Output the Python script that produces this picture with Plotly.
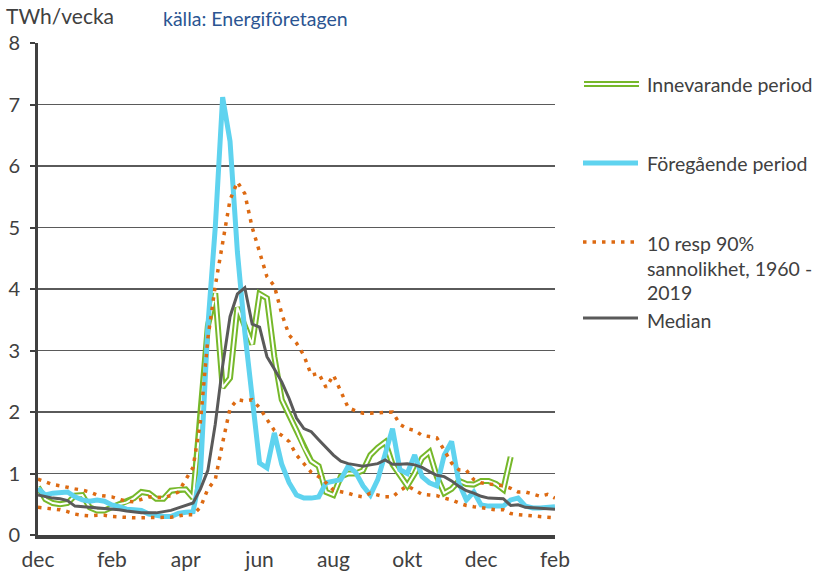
import plotly.graph_objects as go

# ---------------- data ----------------
weeks = list(range(71))
month_labels = ["dec", "feb", "apr", "jun", "aug", "okt", "dec", "feb"]
label_step = 10

innevarande = [0.78, 0.58, 0.52, 0.50, 0.52, 0.64, 0.65, 0.45, 0.40, 0.40,
               0.45, 0.50, 0.53, 0.60, 0.70, 0.68, 0.59, 0.59, 0.72, 0.74,
               0.74, 0.60, 1.90, 3.40, 3.93, 2.40, 2.55, 3.70, 3.40, 3.10,
               3.92, 3.85, 2.90, 2.20, 1.95, 1.70, 1.42, 1.20, 1.12, 0.70,
               0.65, 0.95, 1.00, 1.00, 1.05, 1.30, 1.42, 1.51, 1.15, 0.98,
               0.80, 1.00, 1.25, 1.35, 0.95, 0.68, 0.75, 0.88, 0.83, 0.82,
               0.88, 0.88, 0.83, 0.74, 1.27, None, None, None, None, None, None]

foregaende = [0.76, 0.65, 0.68, 0.70, 0.70, 0.62, 0.57, 0.55, 0.57, 0.55,
              0.49, 0.46, 0.42, 0.41, 0.40, 0.34, 0.31, 0.30, 0.30, 0.35,
              0.37, 0.38, 1.00, 3.40, 5.00, 7.12, 6.40, 4.60, 3.30, 2.20,
              1.17, 1.09, 1.66, 1.15, 0.85, 0.65, 0.60, 0.60, 0.62, 0.85,
              0.87, 0.90, 1.12, 1.02, 0.80, 0.65, 0.90, 1.30, 1.73, 1.06,
              1.00, 1.30, 0.95, 0.85, 0.80, 1.30, 1.52, 0.84, 0.57, 0.70,
              0.49, 0.47, 0.47, 0.47, 0.57, 0.60, 0.47, 0.44, 0.44, 0.44,
              0.46]

p90 = [0.91, 0.87, 0.82, 0.80, 0.77, 0.75, 0.73, 0.70, 0.65, 0.64,
       0.62, 0.58, 0.55, 0.54, 0.58, 0.62, 0.61, 0.61, 0.64, 0.70,
       0.90, 1.10, 1.85, 3.20, 4.05, 4.72, 5.45, 5.74, 5.55, 5.00,
       4.60, 4.20, 4.05, 3.60, 3.25, 3.12, 2.92, 2.60, 2.63, 2.40,
       2.60, 2.35, 2.07, 2.02, 1.98, 1.98, 1.99, 2.00, 2.00, 1.80,
       1.73, 1.70, 1.62, 1.60, 1.58, 1.38, 1.17, 1.06, 1.05, 0.90,
       0.85, 0.83, 0.82, 0.80, 0.76, 0.70, 0.70, 0.66, 0.63, 0.66,
       0.60]

p10 = [0.45, 0.44, 0.42, 0.41, 0.38, 0.34, 0.32, 0.31, 0.32, 0.32,
       0.30, 0.29, 0.29, 0.28, 0.28, 0.28, 0.29, 0.28, 0.29, 0.31,
       0.33, 0.33, 0.45, 0.75, 0.90, 1.50, 2.06, 2.20, 2.18, 2.20,
       2.07, 1.88, 1.70, 1.62, 1.52, 1.30, 1.15, 1.02, 0.95, 0.85,
       0.73, 0.71, 0.68, 0.64, 0.62, 0.68, 0.65, 0.62, 0.62, 0.72,
       0.80, 0.73, 0.66, 0.65, 0.64, 0.60, 0.57, 0.52, 0.48, 0.46,
       0.44, 0.42, 0.41, 0.41, 0.35, 0.33, 0.32, 0.31, 0.31, 0.30,
       0.28]

median = [0.65, 0.62, 0.60, 0.59, 0.56, 0.47, 0.46, 0.46, 0.45, 0.44,
          0.43, 0.41, 0.39, 0.37, 0.36, 0.36, 0.36, 0.38, 0.40, 0.44,
          0.48, 0.52, 0.75, 1.05, 1.80, 2.75, 3.55, 3.92, 4.02, 3.43,
          3.38, 2.90, 2.70, 2.49, 2.22, 1.90, 1.73, 1.68, 1.55, 1.43,
          1.30, 1.20, 1.16, 1.14, 1.12, 1.14, 1.16, 1.22, 1.15, 1.15,
          1.16, 1.14, 1.10, 1.03, 0.97, 0.95, 0.88, 0.79, 0.72, 0.68,
          0.63, 0.60, 0.60, 0.59, 0.48, 0.49, 0.45, 0.44, 0.43, 0.43,
          0.42]

legend_texts = ["Innevarande period", "Föregående period",
                "10 resp 90%", "sannolikhet, 1960 -", "2019", "Median"]

# ---------------- styles ----------------
GREEN = "#76B82A"
BLUE = "#5FD3EF"
ORANGE = "#DD6A12"
GREY = "#5A5A5A"
TXT = "#404040"
FONT = "Lato"
DOT = "3.5px,6px"

W, H = 815, 574
L, R, T, B = 38, 260, 43, 39
PW, PH = W - L - R, H - T - B


def px_x(px):
    return (px - L) / PW


def px_y(py):
    return (H - B - py) / PH


fig = go.Figure()

# Innevarande (compound double line: green with white core)
fig.add_trace(go.Scatter(x=weeks, y=innevarande, mode="lines",
                         line=dict(color=GREEN, width=6), showlegend=False,
                         connectgaps=False, hoverinfo="skip"))
fig.add_trace(go.Scatter(x=weeks, y=innevarande, mode="lines",
                         line=dict(color="white", width=2), showlegend=False,
                         connectgaps=False, name="Innevarande period"))
# Föregående
fig.add_trace(go.Scatter(x=weeks, y=foregaende, mode="lines",
                         line=dict(color=BLUE, width=5), showlegend=False,
                         name="Föregående period"))
# 10 / 90 %
fig.add_trace(go.Scatter(x=weeks, y=p90, mode="lines",
                         line=dict(color=ORANGE, width=3.5, dash=DOT),
                         showlegend=False, name="90%"))
fig.add_trace(go.Scatter(x=weeks, y=p10, mode="lines",
                         line=dict(color=ORANGE, width=3.5, dash=DOT),
                         showlegend=False, name="10%"))
# Median
fig.add_trace(go.Scatter(x=weeks, y=median, mode="lines",
                         line=dict(color=GREY, width=3), showlegend=False,
                         name="Median"))

tickvals = weeks[::label_step]

fig.update_layout(
    width=W, height=H, autosize=False,
    margin=dict(l=L, r=R, t=T, b=B, pad=0, autoexpand=False),
    plot_bgcolor="white", paper_bgcolor="white",
    font=dict(family=FONT, color=TXT, size=20),
    xaxis=dict(range=[0, 70], tickvals=tickvals, ticktext=month_labels,
               showgrid=False, zeroline=False, showline=True,
               linecolor="#404040", linewidth=3.5, ticks="",
               tickfont=dict(size=21, color=TXT), ticklabelstandoff=3,
               automargin=False, fixedrange=True),
    yaxis=dict(range=[0, 8], dtick=1, showgrid=True, gridcolor="#5a5a5a",
               gridwidth=1.3, zeroline=False, showline=True,
               linecolor="#404040", linewidth=3, ticks="outside",
               ticklen=5, tickwidth=2, tickcolor="#404040",
               tickfont=dict(size=20, color=TXT), ticklabelstandoff=6,
               automargin=False, fixedrange=True),
)

annotations = [
    dict(text="TWh/vecka", x=px_x(4), y=px_y(15), xref="paper", yref="paper",
         xanchor="left", yanchor="middle", showarrow=False,
         font=dict(size=21, color=TXT, family=FONT)),
    dict(text="källa: Energiföretagen", x=px_x(161), y=px_y(18),
         xref="paper", yref="paper", xanchor="left", yanchor="middle",
         showarrow=False, font=dict(size=19.5, color="#2B5592", family=FONT)),
]

legend_y = [85, 163, 243, 268, 292, 320]
for txt, ly in zip(legend_texts, legend_y):
    annotations.append(dict(text=txt, x=px_x(645), y=px_y(ly), xref="paper",
                            yref="paper", xanchor="left", yanchor="middle",
                            showarrow=False,
                            font=dict(size=19.5, color=TXT, family=FONT)))

shapes = [
    dict(type="line", xref="paper", yref="paper", x0=px_x(584), x1=px_x(639),
         y0=px_y(84), y1=px_y(84), line=dict(color=GREEN, width=6)),
    dict(type="line", xref="paper", yref="paper", x0=px_x(584), x1=px_x(639),
         y0=px_y(84), y1=px_y(84), line=dict(color="white", width=2)),
    dict(type="line", xref="paper", yref="paper", x0=px_x(583), x1=px_x(638),
         y0=px_y(163), y1=px_y(163), line=dict(color=BLUE, width=5)),
    dict(type="line", xref="paper", yref="paper", x0=px_x(583), x1=px_x(638),
         y0=px_y(242), y1=px_y(242), line=dict(color=ORANGE, width=3.5, dash=DOT)),
    dict(type="line", xref="paper", yref="paper", x0=px_x(583), x1=px_x(638),
         y0=px_y(318), y1=px_y(318), line=dict(color=GREY, width=3)),
]

fig.update_layout(annotations=annotations, shapes=shapes)

fig.write_html("out.html",
               config={"displayModeBar": False, "staticPlot": True},
               post_script="document.body.style.margin='0';"
                           "document.body.style.overflow='hidden';")
